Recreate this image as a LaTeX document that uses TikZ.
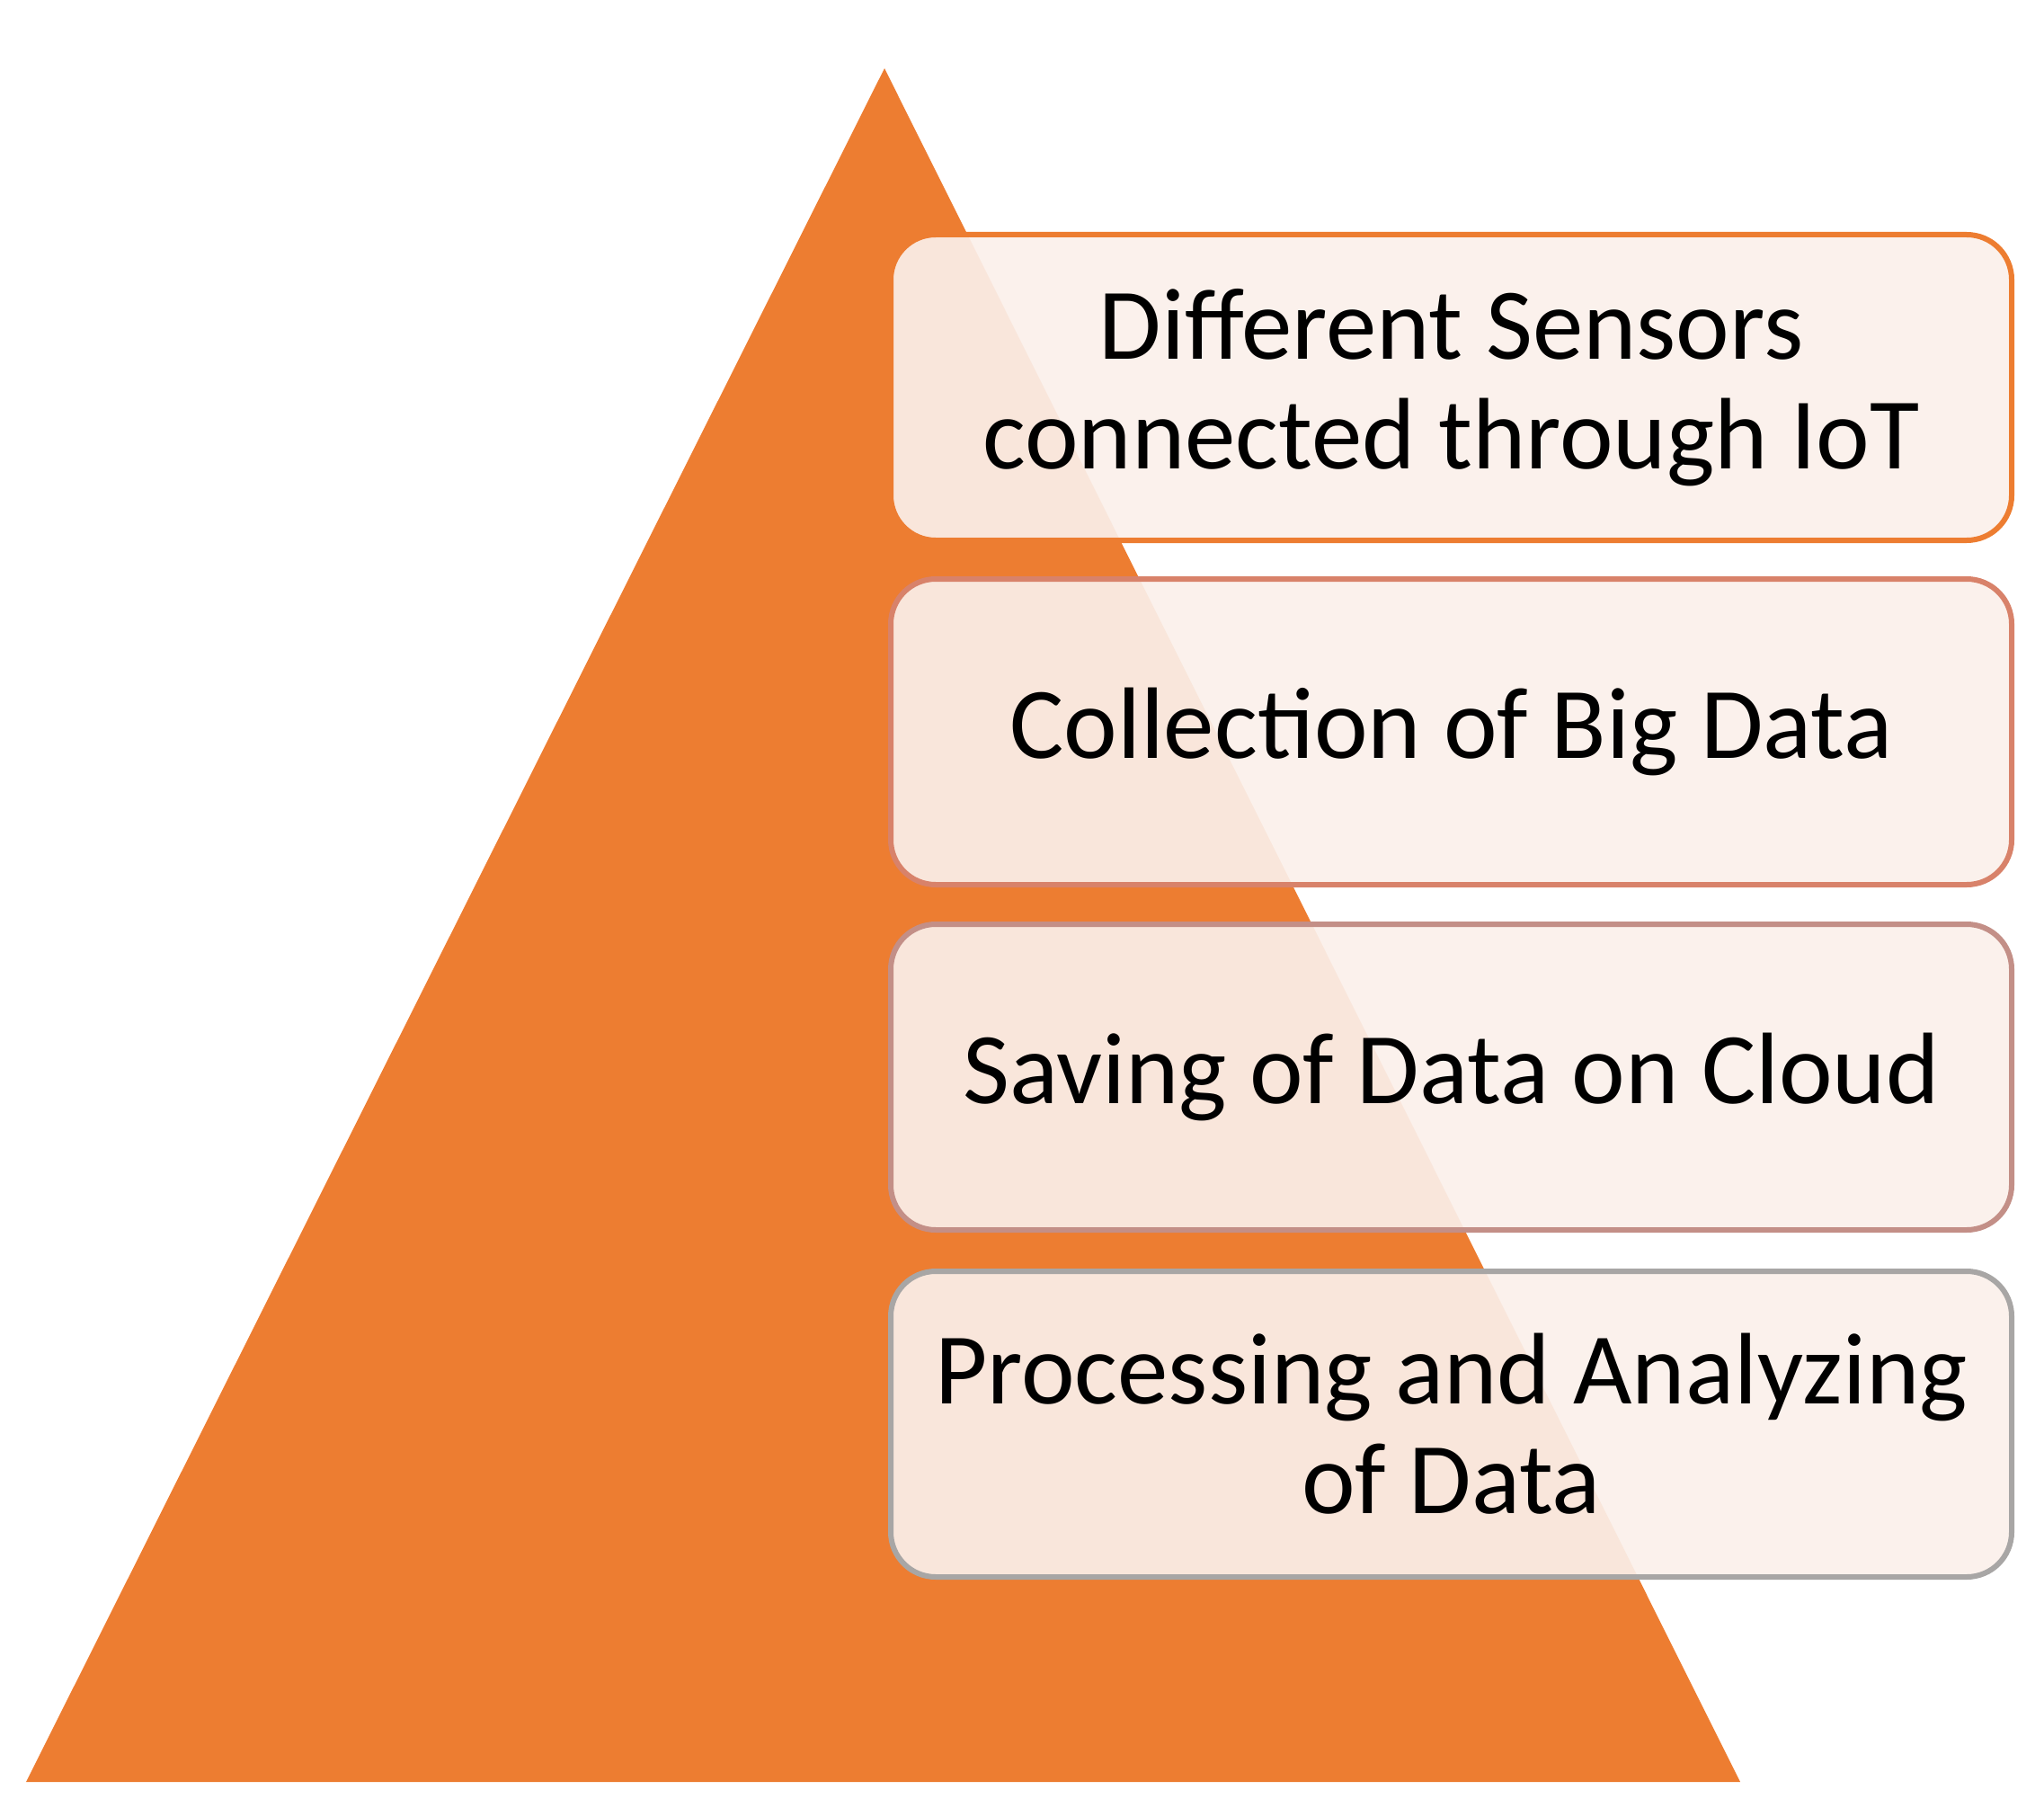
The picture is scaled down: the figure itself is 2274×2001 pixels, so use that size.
\documentclass[tikz,border=0pt]{standalone}
\usepackage{fontspec}
\setmainfont{Carlito}
\definecolor{tri}{HTML}{ED7D31}
\definecolor{bA}{HTML}{ED7D31}
\definecolor{bB}{HTML}{D8826A}
\definecolor{bC}{HTML}{C38F87}
\definecolor{bD}{HTML}{A8A6A5}
\definecolor{boxfill}{HTML}{FBF0EA}
\begin{document}
\begin{tikzpicture}[x=1pt,y=-1pt,
  stepbox/.style={draw, line width=6pt, rounded corners=50pt, fill=boxfill, fill opacity=0.92, text opacity=1,
    minimum width=1247pt, minimum height=340pt, anchor=north west, align=center,
    font=\fontsize{113}{122}\selectfont, inner sep=0pt}]
\useasboundingbox (0,0) rectangle (2274,2001);
\fill[tri] (984,76) coordinate (apex) -- (29,1982) -- (1936,1982) -- cycle;
\node[stepbox, draw=bA] (s1) at (988,258) {Different Sensors\\connected through IoT};
\node[stepbox, draw=bB] (s2) at (988,641) {Collection of Big Data};
\node[stepbox, draw=bC] (s3) at (988,1025) {Saving of Data on Cloud};
\node[stepbox, draw=bD] (s4) at (988,1411) {Processing and Analyzing\\of Data};
\end{tikzpicture}
\end{document}
